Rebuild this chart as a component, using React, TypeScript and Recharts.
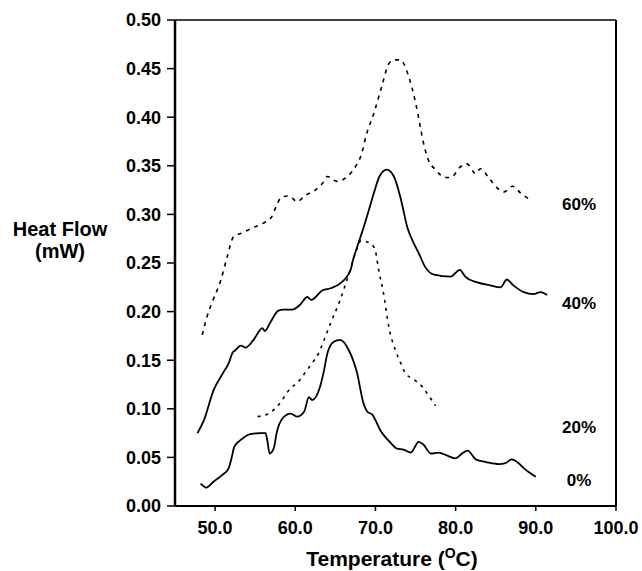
import React from 'react';
import { LineChart, Line, XAxis, YAxis, ReferenceLine, Customized } from 'recharts';

// Temperatures (°C) and heat flow (mW)
const temp0 = [48.2, 48.9, 49.8, 50.9, 51.7, 52.1, 52.4, 53.2, 54.4, 55.7, 56.3, 56.5, 56.8, 57.3, 57.7, 58.4, 59.4, 60.2, 61.1, 61.7, 62.1, 63.1, 63.6, 64.0, 64.8, 65.6, 66.7, 67.7, 68.5, 69.0, 69.6, 70.6, 71.9, 72.7, 73.5, 74.4, 75.4, 76.0, 76.9, 77.9, 78.9, 80.0, 80.8, 81.5, 82.5, 83.9, 85.4, 86.2, 87.0, 87.7, 88.5, 89.1, 90.0];
const heat0 = [0.023, 0.019, 0.025, 0.032, 0.039, 0.051, 0.061, 0.068, 0.074, 0.075, 0.075, 0.068, 0.054, 0.059, 0.076, 0.09, 0.095, 0.092, 0.097, 0.112, 0.109, 0.123, 0.14, 0.157, 0.169, 0.171, 0.16, 0.137, 0.106, 0.097, 0.094, 0.078, 0.065, 0.059, 0.058, 0.055, 0.066, 0.063, 0.054, 0.055, 0.052, 0.049, 0.054, 0.057, 0.048, 0.045, 0.043, 0.044, 0.048, 0.045, 0.039, 0.035, 0.03];

const temp20 = [55.3, 56.7, 57.9, 59.4, 60.4, 61.3, 62.1, 62.9, 63.6, 64.4, 65.6, 66.7, 67.5, 68.2, 69.4, 70.0, 70.4, 71.0, 71.7, 72.5, 73.1, 73.7, 74.8, 75.8, 76.6, 77.5];
const heat20 = [0.092, 0.095, 0.104, 0.121, 0.128, 0.138, 0.147, 0.157, 0.171, 0.188, 0.212, 0.239, 0.26, 0.273, 0.27, 0.262, 0.243, 0.219, 0.183, 0.16, 0.148, 0.137, 0.13, 0.123, 0.114, 0.103];

const temp40 = [47.8, 48.6, 49.8, 51.0, 51.7, 52.2, 52.5, 53.2, 53.8, 54.8, 55.9, 56.2, 56.9, 57.9, 58.5, 59.6, 60.6, 61.5, 62.0, 63.4, 64.4, 65.6, 66.9, 67.2, 67.9, 68.5, 69.2, 69.8, 70.5, 71.4, 72.3, 73.1, 74.0, 74.8, 75.4, 76.2, 77.3, 79.4, 80.0, 80.5, 81.2, 82.7, 84.3, 85.6, 86.4, 87.2, 88.5, 89.7, 90.6, 91.4];
const heat40 = [0.075, 0.088, 0.119, 0.137, 0.147, 0.158, 0.16, 0.165, 0.163, 0.171, 0.183, 0.18, 0.189, 0.201, 0.202, 0.202, 0.207, 0.215, 0.212, 0.222, 0.224, 0.229, 0.243, 0.253, 0.271, 0.286, 0.305, 0.322, 0.339, 0.346, 0.339, 0.318, 0.286, 0.27, 0.26, 0.246, 0.238, 0.236, 0.24, 0.243, 0.236, 0.23, 0.227, 0.225, 0.233, 0.227, 0.22, 0.218, 0.22, 0.217];

const temp60 = [48.4, 49.0, 49.6, 50.7, 51.5, 52.3, 53.4, 54.6, 56.0, 57.1, 57.7, 58.2, 59.0, 59.6, 60.2, 61.3, 62.5, 63.4, 64.0, 65.2, 66.5, 67.5, 68.3, 68.8, 69.8, 70.9, 71.6, 72.3, 73.1, 74.1, 75.0, 75.6, 76.0, 76.6, 77.5, 78.7, 79.4, 80.6, 81.4, 82.5, 83.1, 84.1, 85.2, 86.0, 87.1, 88.1, 89.1];
const heat60 = [0.176, 0.195, 0.209, 0.232, 0.256, 0.277, 0.281, 0.286, 0.291, 0.298, 0.31, 0.317, 0.319, 0.317, 0.313, 0.32, 0.325, 0.332, 0.339, 0.334, 0.339, 0.349, 0.363, 0.38, 0.404, 0.435, 0.454, 0.459, 0.459, 0.443, 0.415, 0.39, 0.373, 0.356, 0.346, 0.338, 0.338, 0.349, 0.352, 0.342, 0.347, 0.338, 0.327, 0.323, 0.329, 0.322, 0.316];

const xTicks = [50, 60, 70, 80, 90, 100];
const yTicks = [0, 0.05, 0.1, 0.15, 0.2, 0.25, 0.3, 0.35, 0.4, 0.45, 0.5];

const seriesLabels = ['60%', '40%', '20%', '0%'];
const labelLevels = [0.311, 0.209, 0.081, 0.027];

const toPoints = (t: number[], h: number[]) => t.map((x, i) => ({ t: x, h: h[i] }));

const FONT = '"Liberation Sans", Arial, sans-serif';

export default function App() {
  const d0 = toPoints(temp0, heat0);
  const d20 = toPoints(temp20, heat20);
  const d40 = toPoints(temp40, heat40);
  const d60 = toPoints(temp60, heat60);

  const tickStyle = { fill: '#000', fontSize: 18, fontWeight: 700, fontFamily: FONT };

  return (
    <div style={{ position: 'absolute', left: 0, top: 0, width: 642, height: 571, background: '#fff' }}>
      <LineChart width={642} height={571} margin={{ top: 20, right: 26, bottom: 0, left: 0 }}>
        <XAxis
          type="number"
          dataKey="t"
          domain={[45, 100]}
          ticks={xTicks}
          tickFormatter={(v: number) => v.toFixed(1)}
          allowDataOverflow
          height={65}
          tick={tickStyle}
          tickSize={5}
          tickMargin={10}
          axisLine={{ stroke: '#000', strokeWidth: 2 }}
          tickLine={{ stroke: '#000', strokeWidth: 1.5 }}
          label={{
            content: () => (
              <text x={392} y={566} textAnchor="middle" fontFamily={FONT} fontWeight={700} fontSize={21} fill="#000">
                Temperature (
                <tspan fontSize={14} dy={-8}>O</tspan>
                <tspan dy={8}>C)</tspan>
              </text>
            ),
          }}
        />
        <YAxis
          type="number"
          dataKey="h"
          domain={[0, 0.5]}
          ticks={yTicks}
          tickFormatter={(v: number) => v.toFixed(2)}
          width={175}
          tick={tickStyle}
          tickSize={8}
          tickMargin={6}
          axisLine={{ stroke: '#000', strokeWidth: 2.5 }}
          tickLine={{ stroke: '#000', strokeWidth: 1.5 }}
          label={{
            content: () => (
              <text textAnchor="middle" fontFamily={FONT} fontWeight={700} fontSize={20} fill="#000">
                <tspan x={60} y={236}>Heat Flow</tspan>
                <tspan x={60} y={258}>(mW)</tspan>
              </text>
            ),
          }}
        />
        <ReferenceLine y={0.5} stroke="#000" strokeWidth={1.5} />
        <ReferenceLine x={100} stroke="#000" strokeWidth={2} />

        <Line data={d60} dataKey="h" type="monotone" stroke="#000" strokeWidth={1.6} strokeDasharray="4 5" dot={false} isAnimationActive={false} />
        <Line data={d40} dataKey="h" type="monotone" stroke="#000" strokeWidth={1.8} dot={false} isAnimationActive={false} />
        <Line data={d20} dataKey="h" type="monotone" stroke="#000" strokeWidth={1.6} strokeDasharray="3 5" dot={false} isAnimationActive={false} />
        <Line data={d0} dataKey="h" type="monotone" stroke="#000" strokeWidth={1.8} dot={false} isAnimationActive={false} />

        <Customized
          component={() => (
            <g>
              {seriesLabels.map((s, i) => (
                <text
                  key={s}
                  x={579}
                  y={506 - labelLevels[i] * 972}
                  dy={6}
                  textAnchor="middle"
                  fontFamily={FONT}
                  fontWeight={700}
                  fontSize={17}
                  fill="#000"
                >
                  {s}
                </text>
              ))}
            </g>
          )}
        />
      </LineChart>
    </div>
  );
}
